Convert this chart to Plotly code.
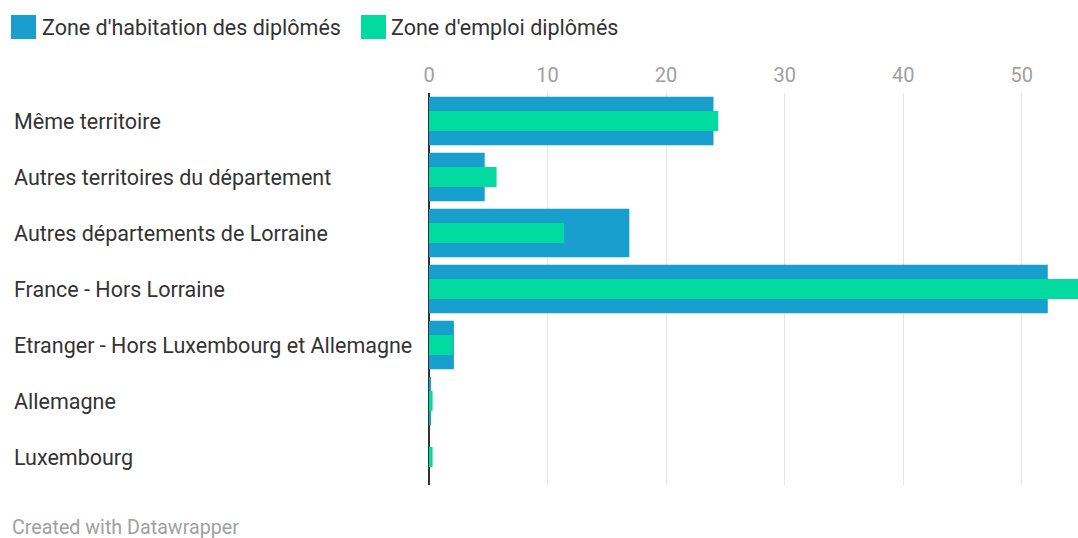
import plotly.graph_objects as go

categories = [
    "Même territoire",
    "Autres territoires du département",
    "Autres départements de Lorraine",
    "France - Hors Lorraine",
    "Etranger - Hors Luxembourg et Allemagne",
    "Allemagne",
    "Luxembourg",
]
habitation = [24.0, 4.7, 16.9, 52.2, 2.1, 0.1, 0.0]
emploi = [24.4, 5.7, 11.4, 56.0, 2.0, 0.3, 0.3]
series_names = ["Zone d'habitation des diplômés", "Zone d'emploi diplômés"]
tick_values = [0, 10, 20, 30, 40, 50]

BLUE = "#189fcd"
GREEN = "#01dba0"
FONT = "Roboto"

fig = go.Figure()
fig.add_trace(go.Bar(y=categories, x=habitation, orientation="h", width=0.87,
                     marker=dict(color=BLUE, line=dict(width=0)), name=series_names[0]))
fig.add_trace(go.Bar(y=categories, x=emploi, orientation="h", width=0.36,
                     marker=dict(color=GREEN, line=dict(width=0)), name=series_names[1]))

W, H = 1078, 538
L, R, T, B = 429, 0, 93, 53
pw, ph = W - L - R, H - T - B

def px(x):
    return (x - L) / pw

def py(y):
    return (H - B - y) / ph

annotations = []
for c in categories:
    annotations.append(dict(x=px(12), y=c, xref="paper", yref="y", text=c,
                            showarrow=False, xanchor="left", yanchor="middle",
                            font=dict(family=FONT, size=21.5, color="#333333")))

shapes = []
legend_items = [(11, 40, BLUE, series_names[0]), (361, 389, GREEN, series_names[1])]
for sx, tx, col, name in legend_items:
    shapes.append(dict(type="rect", xref="paper", yref="paper",
                       x0=px(sx), x1=px(sx + 25), y0=py(15), y1=py(39),
                       fillcolor=col, line=dict(width=0)))
    annotations.append(dict(x=px(tx), y=py(27), xref="paper", yref="paper", text=name,
                            showarrow=False, xanchor="left", yanchor="middle",
                            font=dict(family=FONT, size=21.5, color="#333333")))

annotations.append(dict(x=px(10), y=py(527), xref="paper", yref="paper",
                        text="Created with Datawrapper", showarrow=False,
                        xanchor="left", yanchor="middle",
                        font=dict(family=FONT, size=19.7, color="#a0a0a0")))

fig.update_layout(
    width=W, height=H,
    margin=dict(l=L, r=R, t=T, b=B, pad=0),
    barmode="overlay",
    showlegend=False,
    plot_bgcolor="white", paper_bgcolor="white",
    annotations=annotations,
    shapes=shapes,
    xaxis=dict(side="top", range=[0, 54.75], tickvals=tick_values,
               showgrid=True, gridcolor="#e6e6e6", gridwidth=1,
               zeroline=True, zerolinecolor="#333333", zerolinewidth=2,
               showline=False, ticks="", ticklabelstandoff=6,
               tickfont=dict(family=FONT, size=20, color="#a0a0a0")),
    yaxis=dict(categoryorder="array", categoryarray=categories,
               autorange="reversed", showticklabels=False, showgrid=False,
               zeroline=False, showline=False, ticks=""),
)

fig.write_html("out.html", config={"displayModeBar": False},
               post_script="document.body.style.margin='0';document.body.style.overflow='hidden';")
